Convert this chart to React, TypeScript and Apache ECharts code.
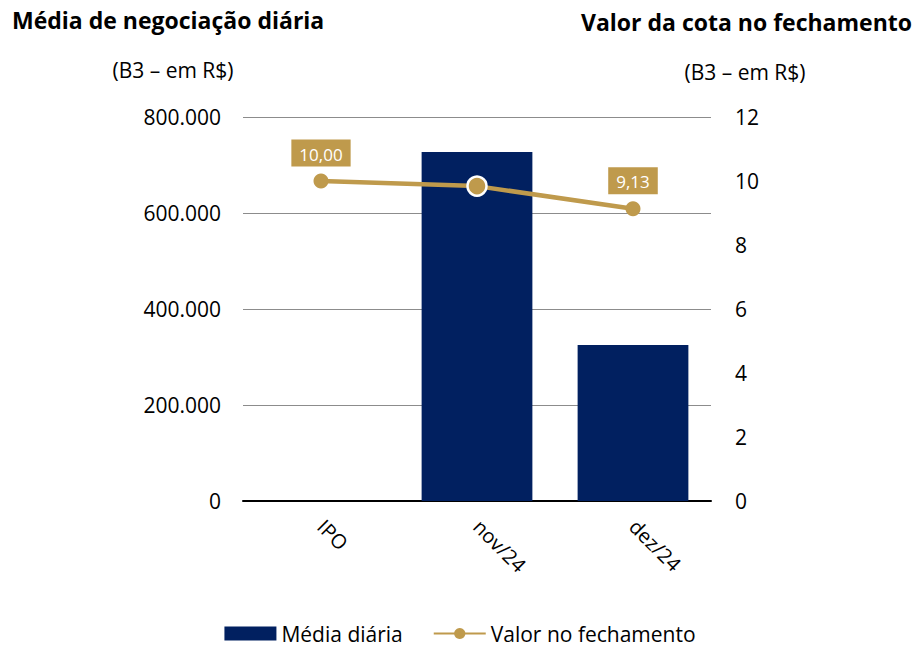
import React, { useEffect, useRef } from "react";
import * as echarts from "echarts";

const categories = ["IPO", "nov/24", "dez/24"];
const mediaDiaria: (number | null)[] = [null, 727000, 325000];
const valorFechamento = [10.0, 9.84, 9.13];
const labeledPoints = [true, false, true];

const NAVY = "#012060";
const GOLD = "#BF9A4C";
const FONT = "Open Sans";

export default function App() {
  const ref = useRef<HTMLDivElement>(null);
  useEffect(() => {
    document.body.style.margin = "0";
    const chart = echarts.init(ref.current!, null, { renderer: "svg" });
    chart.setOption({
      animation: false,
      textStyle: { fontFamily: FONT },
      grid: { left: 243, right: 209, top: 117, bottom: 148 },
      graphic: [
        { type: "text", left: 12, top: 8, style: { text: "Média de negociação diária", font: `bold 23px '${FONT}'`, fill: "#000" } },
        { type: "text", x: 173, y: 70, style: { text: "(B3 – em R$)", font: `21px '${FONT}'`, fill: "#000", align: "center", verticalAlign: "middle" } },
        { type: "text", right: 8, top: 10, style: { text: "Valor da cota no fechamento", font: `bold 23px '${FONT}'`, fill: "#000" } },
        { type: "text", x: 745, y: 72, style: { text: "(B3 – em R$)", font: `21px '${FONT}'`, fill: "#000", align: "center", verticalAlign: "middle" } },
      ],
      legend: {
        bottom: 0,
        left: "center",
        itemGap: 30,
        textStyle: { fontSize: 21, color: "#000", fontFamily: FONT },
        data: [
          { name: "Média diária", icon: "rect", itemStyle: { color: NAVY } },
          { name: "Valor no fechamento" },
        ],
        itemWidth: 52,
        itemHeight: 14,
      },
      xAxis: {
        type: "category",
        data: categories,
        axisLine: { lineStyle: { color: "#000", width: 2 } },
        axisTick: { show: false },
        axisLabel: { rotate: -45, fontSize: 20, color: "#000", margin: 22, fontFamily: FONT },
      },
      yAxis: [
        {
          type: "value",
          min: 0,
          max: 800000,
          interval: 200000,
          axisLine: { show: false },
          axisTick: { show: false },
          splitLine: { lineStyle: { color: "#8c8c8c", width: 1 } },
          axisLabel: {
            fontSize: 21,
            color: "#000",
            margin: 22,
            fontFamily: FONT,
            formatter: (v: number) => (v === 0 ? "0" : v.toLocaleString("pt-BR")),
          },
        },
        {
          type: "value",
          min: 0,
          max: 12,
          interval: 2,
          axisLine: { show: false },
          axisTick: { show: false },
          splitLine: { show: false },
          axisLabel: { fontSize: 21, color: "#000", margin: 24, fontFamily: FONT },
        },
      ],
      series: [
        {
          name: "Média diária",
          type: "bar",
          data: mediaDiaria,
          barWidth: "71%",
          itemStyle: { color: NAVY },
        },
        {
          name: "Valor no fechamento",
          type: "line",
          yAxisIndex: 1,
          data: valorFechamento.map((v, i) => ({
            value: v,
            symbolSize: labeledPoints[i] ? 15 : 19,
            itemStyle: labeledPoints[i]
              ? { color: GOLD, borderWidth: 0 }
              : { color: GOLD, borderColor: "#fff", borderWidth: 2.5 },
            label: {
              show: labeledPoints[i],
              position: "top",
              distance: 7,
              formatter: (p: any) => p.value.toFixed(2).replace(".", ","),
              backgroundColor: GOLD,
              color: "#fff",
              fontSize: 17,
              padding: [6, 8, 4, 8],
              fontFamily: FONT,
            },
          })),
          symbol: "circle",
          lineStyle: { color: GOLD, width: 4.5 },
          itemStyle: { color: GOLD },
        },
      ],
    });
    return () => chart.dispose();
  }, []);
  return <div ref={ref} style={{ width: 920, height: 649 }} />;
}
